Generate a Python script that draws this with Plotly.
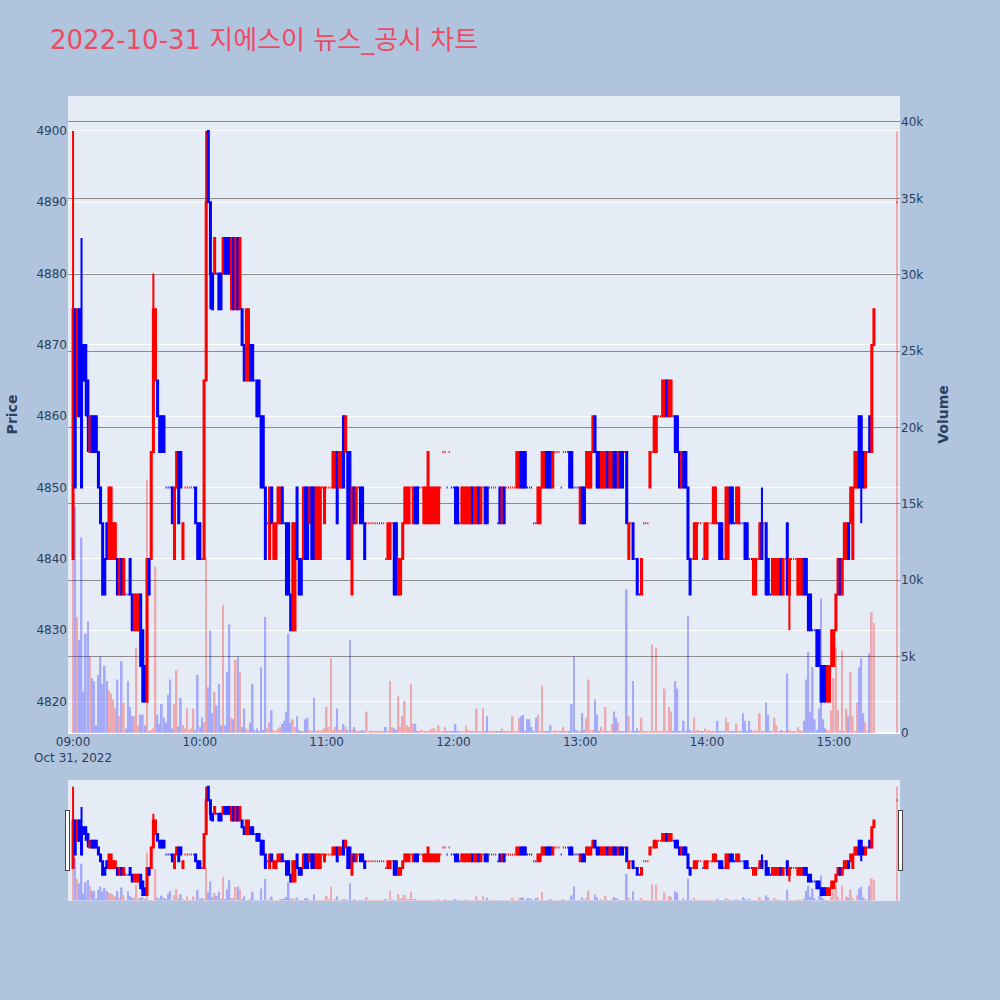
import pandas as pd
import plotly.graph_objects as go
from plotly.subplots import make_subplots

# ---- data (1-minute candles, 2022-10-31) ----
minute_offsets = list(range(0, 380)) + [390]   # 09:00 ... 15:19, then 15:30 closing auction
times = [pd.Timestamp("2022-10-31 09:00") + pd.Timedelta(minutes=m) for m in minute_offsets]

opens = [
    4840,4875,4860,4875,4870,4870,4870,4865,4855,4860,
    4860,4860,4855,4850,4845,4840,4845,4840,4840,4840,
    4840,4840,4835,4840,4835,4835,4835,4840,4835,4830,
    4830,4830,4835,4830,4825,4820,4840,4840,4855,4865,
    4865,4860,4860,4860,4850,4850,4850,4850,4840,4850,
    4855,4855,4840,4850,4850,4850,4850,4850,4850,4845,
    4845,4840,4840,4865,4900,4890,4880,4880,4880,4880,
    4880,4880,4885,4885,4885,4875,4885,4875,4885,4875,
    4875,4870,4865,4865,4870,4870,4865,4865,4865,4860,
    4860,4850,4845,4840,4850,4840,4840,4845,4845,4850,
    4845,4845,4845,4835,4830,4830,4850,4840,4840,4840,
    4850,4850,4845,4850,4850,4840,4840,4840,4850,4845,
    4850,4850,4850,4850,4850,4855,4850,4850,4860,4855,
    4855,4855,4835,4850,4845,4850,4850,4850,4845,4845,
    4845,4845,4845,4845,4845,4845,4845,4845,4840,4840,
    4840,4845,4845,4845,4835,4835,4840,4845,4845,4845,
    4850,4845,4850,4850,4850,4850,4845,4845,4845,4845,
    4845,4845,4845,4845,4850,4855,4855,4850,4855,4850,
    4850,4850,4850,4845,4845,4845,4845,4845,4845,4850,
    4845,4845,4850,4845,4850,4850,4850,4850,4850,4850,
    4850,4845,4850,4845,4850,4850,4850,4850,4850,4850,
    4850,4850,4855,4855,4855,4850,4850,4850,4845,4845,
    4845,4845,4850,4850,4855,4855,4855,4850,4855,4855,
    4855,4850,4855,4855,4855,4855,4855,4850,4850,4850,
    4845,4850,4850,4850,4850,4850,4855,4860,4855,4855,
    4850,4850,4850,4855,4850,4850,4855,4855,4850,4855,
    4855,4855,4855,4840,4845,4845,4840,4840,4835,4835,
    4845,4845,4845,4850,4855,4855,4855,4860,4860,4860,
    4860,4865,4860,4860,4860,4860,4860,4855,4850,4855,
    4855,4850,4840,4840,4840,4840,4845,4845,4840,4840,
    4840,4845,4845,4845,4845,4845,4845,4845,4840,4840,
    4840,4850,4850,4845,4845,4845,4845,4845,4845,4845,
    4840,4840,4835,4835,4840,4840,4845,4845,4845,4840,
    4835,4835,4835,4835,4835,4840,4835,4840,4845,4835,
    4840,4840,4840,4835,4835,4835,4840,4840,4835,4835,
    4830,4830,4830,4830,4825,4825,4825,4820,4820,4825,
    4825,4830,4835,4840,4835,4840,4840,4845,4845,4840,
    4850,4850,4860,4860,4855,4850,4855,4860,4855,4870,
    4890,
]

closes = [
    4875,4850,4875,4860,4850,4865,4865,4860,4860,4855,
    4855,4855,4850,4845,4835,4835,4840,4850,4850,4845,
    4845,4835,4840,4835,4840,4835,4835,4835,4830,4835,
    4835,4835,4825,4820,4820,4840,4835,4855,4875,4875,
    4860,4855,4855,4855,4850,4850,4850,4845,4850,4855,
    4845,4850,4845,4850,4850,4850,4850,4850,4845,4840,
    4840,4840,4865,4890,4890,4880,4875,4885,4880,4875,
    4875,4885,4880,4880,4880,4885,4875,4885,4875,4885,
    4870,4865,4875,4875,4865,4865,4865,4860,4860,4850,
    4850,4840,4845,4850,4845,4845,4845,4850,4850,4845,
    4845,4835,4835,4830,4845,4845,4840,4835,4835,4850,
    4840,4840,4850,4840,4840,4850,4850,4850,4850,4850,
    4850,4850,4850,4855,4855,4845,4855,4855,4850,4860,
    4840,4840,4850,4845,4850,4850,4845,4845,4840,4845,
    4845,4845,4845,4845,4845,4845,4845,4845,4840,4845,
    4845,4845,4835,4835,4840,4840,4845,4850,4850,4850,
    4850,4850,4845,4845,4850,4850,4850,4850,4855,4850,
    4850,4850,4850,4850,4850,4855,4855,4850,4855,4850,
    4850,4845,4845,4845,4850,4850,4850,4850,4850,4845,
    4850,4850,4845,4850,4850,4845,4845,4850,4850,4850,
    4850,4845,4845,4850,4845,4850,4850,4850,4850,4850,
    4855,4855,4850,4850,4850,4850,4850,4850,4845,4845,
    4850,4850,4855,4855,4850,4850,4850,4855,4855,4855,
    4855,4850,4855,4855,4855,4850,4850,4850,4850,4850,
    4850,4845,4845,4855,4855,4855,4860,4855,4850,4850,
    4855,4855,4855,4850,4855,4855,4850,4850,4855,4850,
    4850,4855,4845,4845,4845,4840,4840,4835,4835,4840,
    4845,4845,4845,4855,4855,4860,4860,4860,4860,4865,
    4865,4860,4865,4865,4860,4855,4855,4850,4855,4850,
    4850,4840,4835,4840,4845,4845,4845,4845,4840,4845,
    4845,4845,4845,4850,4850,4845,4840,4840,4840,4850,
    4850,4845,4845,4845,4850,4850,4845,4845,4840,4840,
    4840,4840,4840,4840,4840,4845,4840,4845,4835,4835,
    4835,4840,4840,4840,4840,4835,4840,4840,4835,4840,
    4840,4840,4840,4840,4840,4840,4835,4835,4830,4830,
    4830,4830,4825,4825,4820,4820,4820,4825,4825,4830,
    4830,4835,4840,4835,4840,4845,4845,4840,4850,4850,
    4855,4855,4850,4855,4850,4855,4855,4855,4870,4875,
    4890,
]

# wicks that reach beyond the candle body
high_wicks = {"09:00": 4900, "09:04": 4885, "09:38": 4880, "10:03": 4900, "14:26": 4850}
low_wicks = {"09:06": 4860, "09:07": 4855, "10:05": 4875, "14:39": 4830, "15:13": 4845}

volumes = [
    12000,14800,7600,6100,12800,2700,6500,7300,5000,3600,
    3400,500,3800,5000,3200,4400,3400,2800,2600,2200,
    1600,3500,1100,4700,2000,300,3400,1700,1100,1100,
    5600,500,1200,1200,500,16600,100,200,300,10900,
    1200,600,1900,1000,700,2500,3500,300,1900,4100,
    400,2300,500,300,1600,200,300,1600,200,3800,
    400,1000,700,11500,3000,6700,1300,2700,1800,3200,
    500,8400,500,4000,7100,1000,900,4800,5000,4000,
    400,1600,300,200,700,3200,200,300,100,4300,
    200,7600,300,700,1500,200,100,300,400,600,
    800,1400,6500,700,900,400,1100,200,100,100,
    900,1000,200,100,2300,100,200,100,200,300,
    1700,400,4900,200,400,1600,200,200,600,400,
    200,6100,200,400,200,100,100,200,100,1400,
    100,200,100,100,100,100,100,100,400,100,
    3400,400,300,200,2400,400,1100,2100,500,400,
    3200,600,600,100,100,200,100,100,100,200,
    300,300,100,500,100,100,400,100,100,100,
    100,600,100,100,100,100,500,200,100,100,
    100,1600,100,100,1600,100,1100,100,100,100,
    100,100,100,300,100,100,100,100,1100,100,
    100,1000,1100,1200,100,900,900,400,100,1000,
    1200,100,3100,100,100,100,500,100,200,100,
    100,100,400,100,100,100,1900,5000,200,100,
    100,1300,200,1000,3500,200,200,2200,1200,100,
    400,100,1700,100,100,600,1400,1000,700,100,
    100,100,9400,1100,100,3400,100,300,100,1000,
    100,100,100,100,5800,100,5600,100,100,100,
    2900,100,1700,1400,100,3400,2900,100,100,800,
    100,7700,200,100,1000,100,200,100,100,300,
    100,200,100,100,100,800,100,100,100,1000,
    700,100,100,100,600,100,100,1300,800,100,
    800,200,100,200,100,1300,100,100,2000,1200,
    100,100,1000,500,100,200,100,100,3900,200,
    100,100,100,400,200,100,800,3500,5300,1400,
    4300,900,200,1600,8800,900,300,200,100,1500,
    3600,5600,1500,100,5400,100,1600,1100,4000,1100,
    100,2000,4300,4900,1300,700,100,5200,7900,7200,
    39400,
]

# ---- derived ----
labels = [t.strftime("%H:%M") for t in times]
highs = [high_wicks.get(l, max(o, c)) for l, o, c in zip(labels, opens, closes)]
lows = [low_wicks.get(l, min(o, c)) for l, o, c in zip(labels, opens, closes)]

UP, DOWN = "red", "blue"
vol_colors = []
prev_close, prev_up = None, True
for o, c in zip(opens, closes):
    if c > o:
        up = True
    elif c < o:
        up = False
    elif prev_close is not None and c != prev_close:
        up = c > prev_close
    else:
        up = prev_up
    vol_colors.append(UP if up else DOWN)
    prev_close, prev_up = c, up

fig = make_subplots(specs=[[{"secondary_y": True}]])
fig.add_trace(
    go.Candlestick(
        x=times, open=opens, high=highs, low=lows, close=closes,
        increasing=dict(line=dict(color=UP), fillcolor=UP),
        decreasing=dict(line=dict(color=DOWN), fillcolor=DOWN),
        name="가격",
    ),
    secondary_y=False,
)
fig.add_trace(
    go.Bar(x=times, y=volumes, marker=dict(color=vol_colors, line=dict(width=0)),
           opacity=0.28, name="거래량"),
    secondary_y=True,
)

x_range = ["2022-10-31 08:57:36", "2022-10-31 15:31:20"]
fig.update_layout(
    width=1000, height=1000,
    font=dict(family="DejaVu Sans, Noto Sans CJK KR, sans-serif", size=12),
    title=dict(text="2022-10-31 지에스이 뉴스_공시 차트", x=0.05, xanchor="left",
               y=0.96, yanchor="middle",
               font=dict(size=26, color="#EE4B63",
                         family="DejaVu Sans, Noto Sans CJK KR, sans-serif")),
    paper_bgcolor="#B0C4DE",
    plot_bgcolor="#E5ECF6",
    margin=dict(l=68, r=100, t=96, b=100),
    showlegend=False,
    bargap=0.2,
)
fig.update_xaxes(domain=[0, 1], range=x_range, showgrid=False,
                 rangeslider=dict(visible=True, range=x_range, thickness=0.15))
fig.update_yaxes(title_text="<b>Price</b>", range=[4815.6, 4904.9], dtick=10,
                 secondary_y=False)
fig.update_yaxes(title_text="<b>Volume</b>", range=[0, 41700], dtick=5000,
                 showgrid=True, gridcolor="#8c8c8c", gridwidth=1,
                 secondary_y=True)

fig.write_html("out.html", config={"displayModeBar": False},
               post_script="document.body.style.margin='0px';")
